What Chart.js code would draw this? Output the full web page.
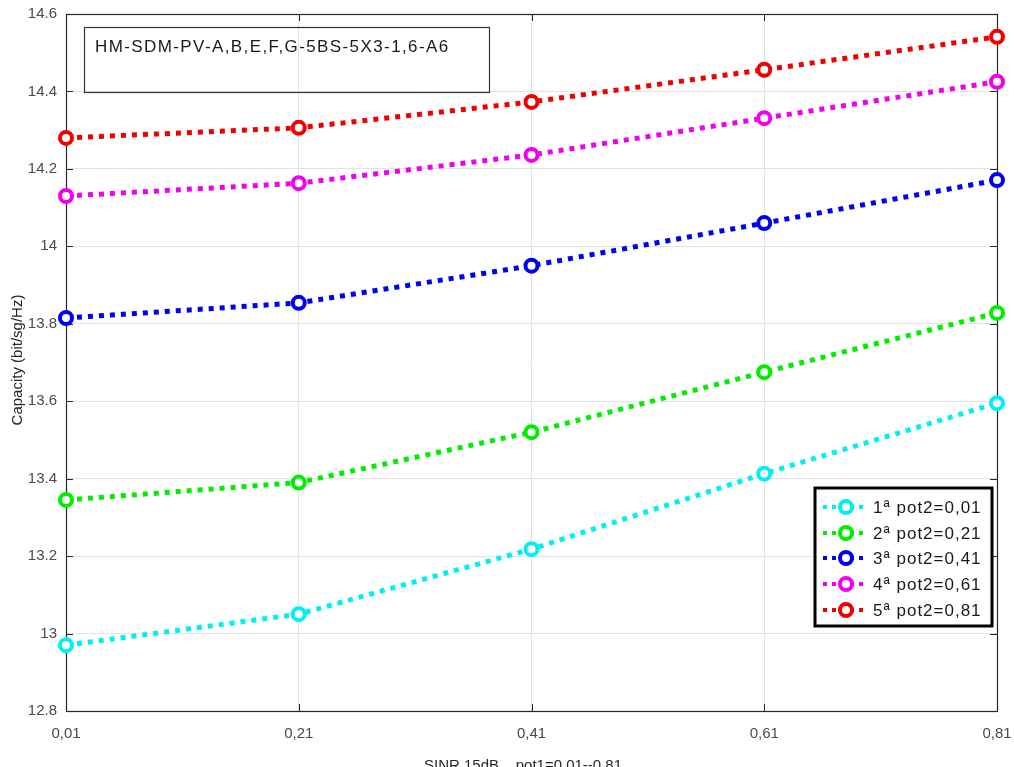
<!DOCTYPE html>
<html>
<head>
<meta charset="utf-8">
<script src="https://cdn.jsdelivr.net/npm/chart.js@4"></script>
<style>
html,body{margin:0;padding:0;background:#fff;}
#wrap{width:1014px;height:767px;position:relative;}
</style>
</head>
<body>
<div id="wrap"><canvas id="c" width="1014" height="767"></canvas></div>
<script>
const categories = ['0,01', '0,21', '0,41', '0,61', '0,81'];
const yTickValues = [12.8, 13, 13.2, 13.4, 13.6, 13.8, 14, 14.2, 14.4, 14.6];
const seriesLabels = ['1ª pot2=0,01', '2ª pot2=0,21', '3ª pot2=0,41', '4ª pot2=0,61', '5ª pot2=0,81'];
const pot2_001 = [12.97, 13.05, 13.218, 13.413, 13.595];
const pot2_021 = [13.345, 13.39, 13.52, 13.675, 13.828];
const pot2_041 = [13.815, 13.854, 13.95, 14.06, 14.171];
const pot2_061 = [14.13, 14.163, 14.236, 14.331, 14.425];
const pot2_081 = [14.28, 14.306, 14.373, 14.456, 14.541];
const seriesColors = ['#00f0f0', '#00ee00', '#0000f0', '#f000f0', '#f00000'];
const annotationText = 'HM-SDM-PV-A,B,E,F,G-5BS-5X3-1,6-A6';
const yTitle = 'Capacity (bit/sg/Hz)';
const xTitle = 'SINR 15dB    pot1=0.01--0.81';

const seriesValues = [pot2_001, pot2_021, pot2_041, pot2_061, pot2_081];
const FONT = 'Arial, "Liberation Sans", sans-serif';

const datasets = seriesValues.map((vals, i) => ({
  label: seriesLabels[i],
  data: vals,
  borderColor: seriesColors[i],
  backgroundColor: seriesColors[i],
  borderWidth: 5,
  borderDash: [5, 6],
  borderCapStyle: 'butt',
  tension: 0,
  fill: false,
  pointRadius: 6,
  pointHoverRadius: 6,
  pointBorderWidth: 4,
  pointBackgroundColor: '#ffffff',
  pointBorderColor: seriesColors[i],
  clip: false
}));

const AXIS = '#262626';

const framePlugin = {
  id: 'frame',
  beforeDatasetsDraw(chart) {
    const {ctx, chartArea: a, scales} = chart;
    ctx.save();
    ctx.strokeStyle = AXIS;
    ctx.lineWidth = 1.2;
    ctx.strokeRect(a.left + 0.5, a.top + 0.5, a.right - a.left, a.bottom - a.top);
    ctx.lineWidth = 1;
    ctx.beginPath();
    scales.y.ticks.forEach(t => {
      const y = Math.round(scales.y.getPixelForValue(t.value)) + 0.5;
      ctx.moveTo(a.left, y); ctx.lineTo(a.left + 7, y);
      ctx.moveTo(a.right, y); ctx.lineTo(a.right - 7, y);
    });
    scales.x.ticks.forEach((t, i) => {
      const x = Math.round(scales.x.getPixelForTick(i)) + 0.5;
      ctx.moveTo(x, a.bottom); ctx.lineTo(x, a.bottom - 7);
      ctx.moveTo(x, a.top); ctx.lineTo(x, a.top + 7);
    });
    ctx.stroke();
    ctx.restore();
  },
  afterDraw(chart) {
    const {ctx} = chart;
    ctx.save();
    // annotation box
    ctx.strokeStyle = '#333';
    ctx.lineWidth = 1.2;
    ctx.strokeRect(84.5, 27.5, 405, 65);
    ctx.fillStyle = '#1a1a1a';
    ctx.font = '17px ' + FONT;
    ctx.textBaseline = 'middle';
    ctx.letterSpacing = '1.4px';
    ctx.fillText(annotationText, 95, 47);
    ctx.letterSpacing = '0px';

    // legend
    ctx.fillStyle = '#fff';
    ctx.fillRect(815, 488, 177, 138);
    ctx.strokeStyle = '#000';
    ctx.lineWidth = 3;
    ctx.strokeRect(815, 488, 177, 138);
    const rows = [507, 533, 558, 584, 610];
    chart.data.datasets.forEach((ds, i) => {
      const y = rows[i];
      ctx.save();
      ctx.strokeStyle = ds.borderColor;
      ctx.lineWidth = 4;
      ctx.setLineDash([4, 5]);
      ctx.beginPath();
      ctx.moveTo(823, y); ctx.lineTo(868, y);
      ctx.stroke();
      ctx.setLineDash([]);
      ctx.beginPath();
      ctx.arc(846, y, 6, 0, Math.PI * 2);
      ctx.fillStyle = '#fff';
      ctx.fill();
      ctx.lineWidth = 4;
      ctx.stroke();
      ctx.restore();
      ctx.save();
      ctx.fillStyle = '#1a1a1a';
      ctx.font = '17px ' + FONT;
      ctx.textBaseline = 'middle';
      ctx.letterSpacing = '1px';
      ctx.fillText(ds.label, 873, y + 1);
      ctx.restore();
    });

    // axis titles
    ctx.fillStyle = '#262626';
    ctx.font = '15px ' + FONT;
    ctx.textAlign = 'left';
    ctx.textBaseline = 'alphabetic';
    ctx.fillText(xTitle, 424, 770);
    ctx.save();
    ctx.translate(18, 360);
    ctx.rotate(-Math.PI / 2);
    ctx.textAlign = 'center';
    ctx.textBaseline = 'middle';
    ctx.fillText(yTitle, 0, 0);
    ctx.restore();
    ctx.restore();
  }
};

new Chart(document.getElementById('c'), {
  type: 'line',
  data: { labels: categories, datasets },
  options: {
    responsive: false,
    animation: false,
    devicePixelRatio: 1,
    layout: { padding: { top: 14, right: 17, bottom: 0, left: 0 } },
    plugins: { legend: { display: false }, tooltip: { enabled: false }, title: { display: false } },
    scales: {
      x: {
        type: 'category',
        offset: false,
        border: { display: false },
        grid: { color: '#e3e3e3', lineWidth: 1, drawTicks: false },
        ticks: {
          color: '#4a4a4a',
          font: { size: 15, family: FONT },
          padding: 14,
          maxRotation: 0,
          autoSkip: false
        },
        afterFit(s) { s.height = 56; s.paddingLeft = 0; s.paddingRight = 0; }
      },
      y: {
        type: 'linear',
        min: 12.8,
        max: 14.6,
        border: { display: false },
        grid: { color: '#e3e3e3', lineWidth: 1, drawTicks: false },
        afterBuildTicks(s) { s.ticks = yTickValues.map(v => ({ value: v })); },
        ticks: {
          color: '#4a4a4a',
          font: { size: 15, family: FONT },
          padding: 9,
          callback: v => String(Math.round(v * 10) / 10)
        },
        afterFit(s) { s.width = 66; s.paddingTop = 0; s.paddingBottom = 0; }
      }
    }
  },
  plugins: [framePlugin]
});
</script>
</body>
</html>
